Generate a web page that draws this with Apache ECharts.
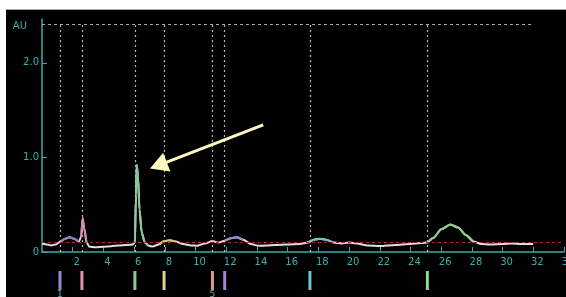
<!DOCTYPE html>
<html>
<head>
<meta charset="utf-8">
<script src="https://cdn.jsdelivr.net/npm/echarts@6/dist/echarts.min.js"></script>
<style>
html,body{margin:0;padding:0;background:#fff;overflow:hidden;}
#c{position:absolute;left:6px;top:9px;width:560px;height:288px;border-top:1px solid #aaa;box-sizing:border-box;}
</style>
</head>
<body>
<div id="c"></div>
<script>
// Chromatogram trace: retention time (min) and absorbance (AU)
const times = [0.0,0.3,0.6,0.9,1.2,1.5,1.8,2.1,2.4,2.55,2.65,2.75,2.9,3.1,3.5,4.0,4.5,5.0,5.5,5.9,6.05,6.12,6.17,6.25,6.35,6.5,6.7,6.9,7.2,7.6,8.0,8.3,8.7,9.2,9.7,10.1,10.6,11.1,11.5,11.9,12.3,12.7,13.1,13.6,14.1,14.6,15.2,16.0,16.8,17.3,17.7,18.1,18.5,19.0,19.5,20.0,20.5,21.2,22.0,23.0,24.0,24.7,25.1,25.5,26.0,26.6,27.1,27.6,28.1,28.6,29.2,30.0,30.6,31.2,32.0];
const absorbance = [0.09,0.08,0.07,0.08,0.11,0.14,0.155,0.14,0.11,0.16,0.36,0.25,0.1,0.055,0.05,0.055,0.06,0.07,0.075,0.08,0.1,0.6,0.92,0.8,0.45,0.2,0.1,0.07,0.058,0.08,0.115,0.125,0.11,0.085,0.07,0.066,0.09,0.115,0.1,0.12,0.145,0.155,0.13,0.085,0.065,0.068,0.075,0.08,0.085,0.1,0.13,0.14,0.13,0.1,0.09,0.1,0.09,0.07,0.063,0.075,0.085,0.095,0.1,0.15,0.24,0.29,0.26,0.18,0.11,0.085,0.08,0.085,0.09,0.085,0.085];

// Coloured peak segments (time windows)
const peakStart = [1.0, 2.45, 6.0, 7.6, 11.9, 17.3, 25.1];
const peakEnd   = [2.4, 3.0, 6.9, 8.8, 13.3, 19.3, 28.3];
const peakColors = ['#8a7cc8','#d884aa','#86c89a','#d8c07a','#a284d0','#64c6c6','#8cd084'];

// Peak markers (vertical dotted lines + coloured bars below the axis)
const markerTimes  = [1.17, 2.6, 6.05, 7.95, 11.1, 11.9, 17.45, 25.1];
const markerColors = ['#9a88d0','#e090b0','#86c89a','#e0d090','#d89c88','#a088d0','#70c8c8','#90d490'];
const markerLabels = ['1','','','','5','','',''];

// Axis ticks
const xTickInterval = 2;
const yTickLabels = {0:'0', 1:'1.0', 2:'2.0'};
const redLineLevel = 0.1;
const topLineLevel = 2.41;
const arrowFrom = [14.41, 1.344];
const arrowTo = [7.58, 0.916];

const trace = times.map((t,i)=>[t, absorbance[i]]);
const teal = '#3aa8a8';

const peakSeries = peakStart.map((s,k)=>({
  type:'line', xAxisIndex:0, yAxisIndex:0, showSymbol:false, silent:true, z:4,
  smooth:0.25, smoothMonotone:'x',
  data: trace.filter(p=>p[0]>=s && p[0]<=peakEnd[k]),
  lineStyle:{color:peakColors[k], width:2}
}));

const chart = echarts.init(document.getElementById('c'));
chart.setOption({
  backgroundColor:'#000',
  animation:false,
  grid:[
    {left:36, right:2, top:9.3, bottom:45, containLabel:false, outerBoundsMode:'none'},
    {left:36, right:2, top:261, height:19, containLabel:false, outerBoundsMode:'none'}
  ],
  xAxis:[
    {type:'value', gridIndex:0, min:0, max:34, interval:xTickInterval,
     axisLine:{lineStyle:{color:teal, width:1.5}},
     axisTick:{inside:true, length:5, lineStyle:{color:teal, width:1}},
     axisLabel:{color:'#3fb0b0', fontSize:10, fontFamily:'DejaVu Sans', margin:5, showMinLabel:false, padding:[0,0,0,8], hideOverlap:false},
     splitLine:{show:false}},
    {type:'value', gridIndex:1, min:0, max:34, show:false}
  ],
  yAxis:[
    {type:'value', gridIndex:0, min:0, max:2.46, interval:1,
     name:'AU', nameLocation:'end', nameGap:-7,
     nameTextStyle:{color:'#3fa8a8', fontSize:10, fontFamily:'DejaVu Sans', align:'right', verticalAlign:'middle', padding:[0,15,0,0]},
     axisLine:{show:true, lineStyle:{color:teal, width:1.5}},
     axisTick:{inside:true, length:5, lineStyle:{color:teal}},
     axisLabel:{color:'#3fb0b0', fontSize:10, fontFamily:'DejaVu Sans', margin:3, showMaxLabel:false, padding:[0,0,4,0],
       formatter:v=>yTickLabels[Math.round(v)]!==undefined && Math.abs(v-Math.round(v))<1e-6 ? yTickLabels[Math.round(v)] : ''},
     splitLine:{show:false}},
    {type:'value', gridIndex:1, min:0, max:1, show:false}
  ],
  series:[
    {type:'line', xAxisIndex:0, yAxisIndex:0, showSymbol:false, silent:true, z:3,
     smooth:0.25, smoothMonotone:'x',
     data:trace, lineStyle:{color:'#e2dcdc', width:2}},
    ...peakSeries,
    {type:'line', xAxisIndex:0, yAxisIndex:0, data:[], silent:true, z:1,
     markLine:{silent:true, symbol:'none', label:{show:false},
       data:[
         [{coord:[0,redLineLevel], lineStyle:{color:'#b02424', type:[3,3], width:1}},{coord:[34,redLineLevel]}],
         [{coord:[0,topLineLevel], lineStyle:{color:'#a8a8a8', type:[3,3], width:1}},{coord:[32,topLineLevel]}]
       ].concat(markerTimes.map(t=>[
         {coord:[t,0], lineStyle:{color:'#b8b8b8', type:[2,3], width:1.2}},{coord:[t,topLineLevel]}
       ]))
     }},
    {type:'line', xAxisIndex:0, yAxisIndex:0, data:[], silent:true, z:10,
     markLine:{silent:true, symbol:['none','triangle'], symbolSize:[20,18], label:{show:false},
       lineStyle:{color:'#fff8c0', width:3, type:'solid'},
       itemStyle:{color:'#fff8c0'},
       data:[[{coord:arrowFrom},{coord:arrowTo}]]}},
    {type:'bar', xAxisIndex:1, yAxisIndex:1, barWidth:3, silent:true,
     data: markerTimes.map((t,i)=>({value:[t,1], itemStyle:{color:markerColors[i]},
        label:{show:markerLabels[i]!=='', formatter:markerLabels[i], position:'bottom', distance:0, color:'#6aa8a8', fontSize:9, fontFamily:'DejaVu Sans'}}))
    }
  ]
});
</script>
</body>
</html>
